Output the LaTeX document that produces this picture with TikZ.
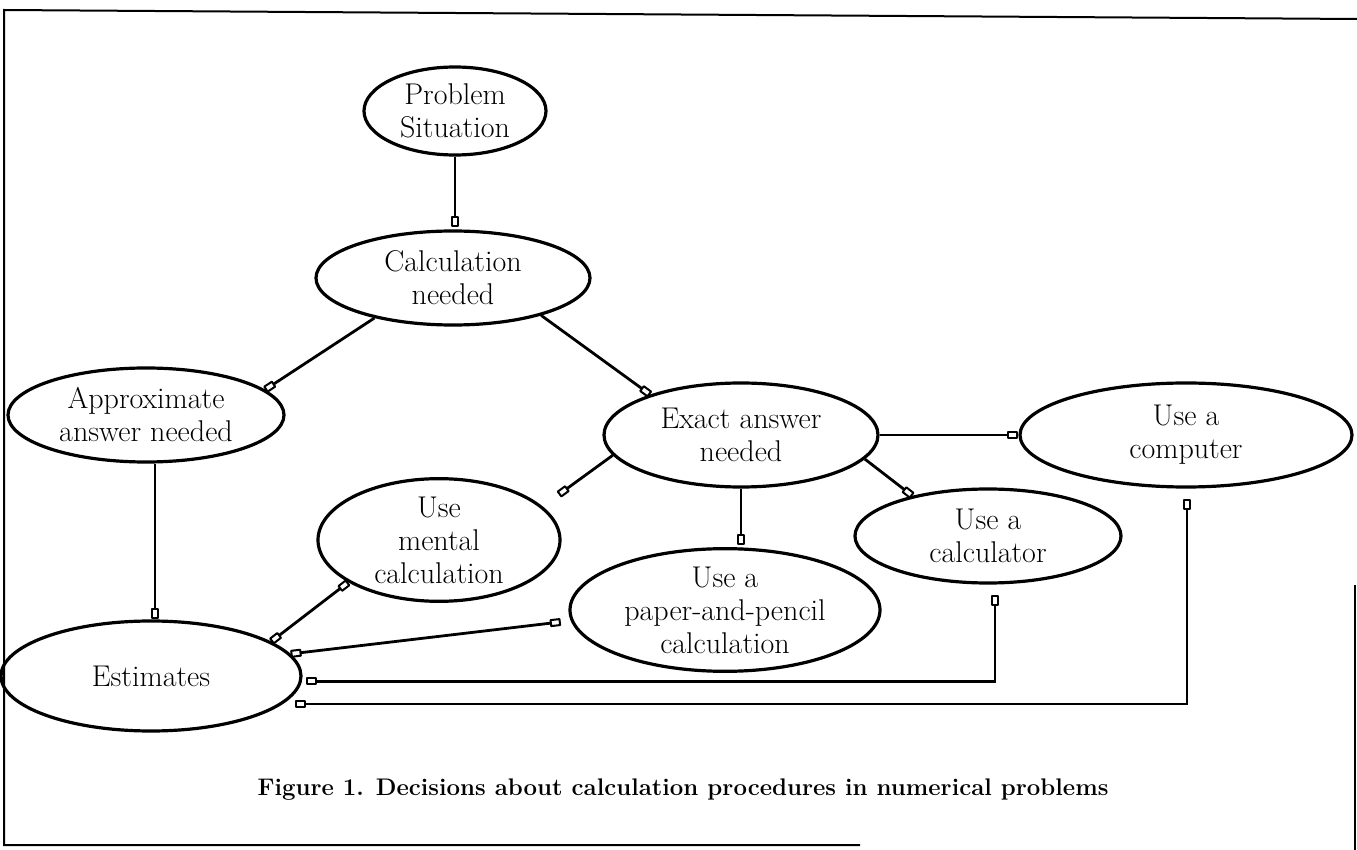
\documentclass[tikz,border=0pt]{standalone}
\usetikzlibrary{shapes.geometric,arrows.meta}
\begin{document}
\begin{tikzpicture}[x=0.5pt,y=-0.5pt,
  el/.style={draw,ellipse,line width=1.6pt,inner sep=0pt,align=center,font=\fontsize{15}{16.5}\selectfont},
  conn/.style={line width=1.4pt,{Rectangle[open,round,length=5.5pt,width=4pt,line width=1pt]}-{Rectangle[open,round,length=5.5pt,width=4pt,line width=1pt]}},
  one/.style={line width=1.4pt,-{Rectangle[open,round,length=5.5pt,width=4pt,line width=1pt]}},
  frame/.style={line width=1pt}]
\useasboundingbox (0,0) rectangle (1357,850);
% frame
\draw[frame] (1357,19) -- (4,10) -- (4,845) -- (860,845);
\draw[frame] (1355,585) -- (1355,850);
% nodes
\node[el,minimum width=91pt,minimum height=44pt] (ps) at (455,111) {Problem\\Situation};
\node[el,minimum width=137pt,minimum height=47pt] (cn) at (453,278) {Calculation\\needed};
\node[el,minimum width=138pt,minimum height=47pt] (ap) at (146,415) {Approximate\\answer needed};
\node[el,minimum width=137pt,minimum height=52pt] (ex) at (741,435) {Exact answer\\needed};
\node[el,minimum width=166pt,minimum height=52pt] (co) at (1186,435) {Use a\\computer};
\node[el,minimum width=121pt,minimum height=51pt] (me) at (439,540) {Use\\mental\\calculation};
\node[el,minimum width=155pt,minimum height=55pt] (pa) at (725,610) {Use a\\paper-and-pencil\\calculation};
\node[el,minimum width=133pt,minimum height=47pt] (ca) at (988,536) {Use a\\calculator};
\node[el,minimum width=150pt,minimum height=55pt] (es) at (151,676) {Estimates};
% connectors
\draw[one,shorten >=1pt] (ps.south) -- (ps.south |- cn.north);
\draw[one] (cn.207) -- (ap.12);
\draw[one] (cn.-23) -- (ex.156);
\draw[one] ([xshift=4.5pt]ap.south) -- ([xshift=4.5pt]ap.south |- es.north);
\draw[one,shorten >=10pt] (ex.189) -- (me.18);
\draw[one,shorten >=1pt] (ex.south) -- (ex.south |- pa.north);
\draw[one] (ex.-11) -- (ca.152);
\draw[one] (ex.east) -- (co.west);
\draw[conn] (me.205) -- (es.16);
\draw[conn,shorten >=5pt] (es.9) -- (pa.184);
\draw[conn,shorten <=2pt,shorten >=5pt] (es.-2) -| ([xshift=3.5pt]ca.south);
\draw[conn,shorten <=6pt,shorten >=5pt] (es.-12) -| ([xshift=0.5pt]co.south);
% caption
\node[font=\fontsize{12}{14}\selectfont\bfseries] (cap) at (683,790) {Figure 1. Decisions about calculation procedures in numerical problems};
\end{tikzpicture}
\end{document}
